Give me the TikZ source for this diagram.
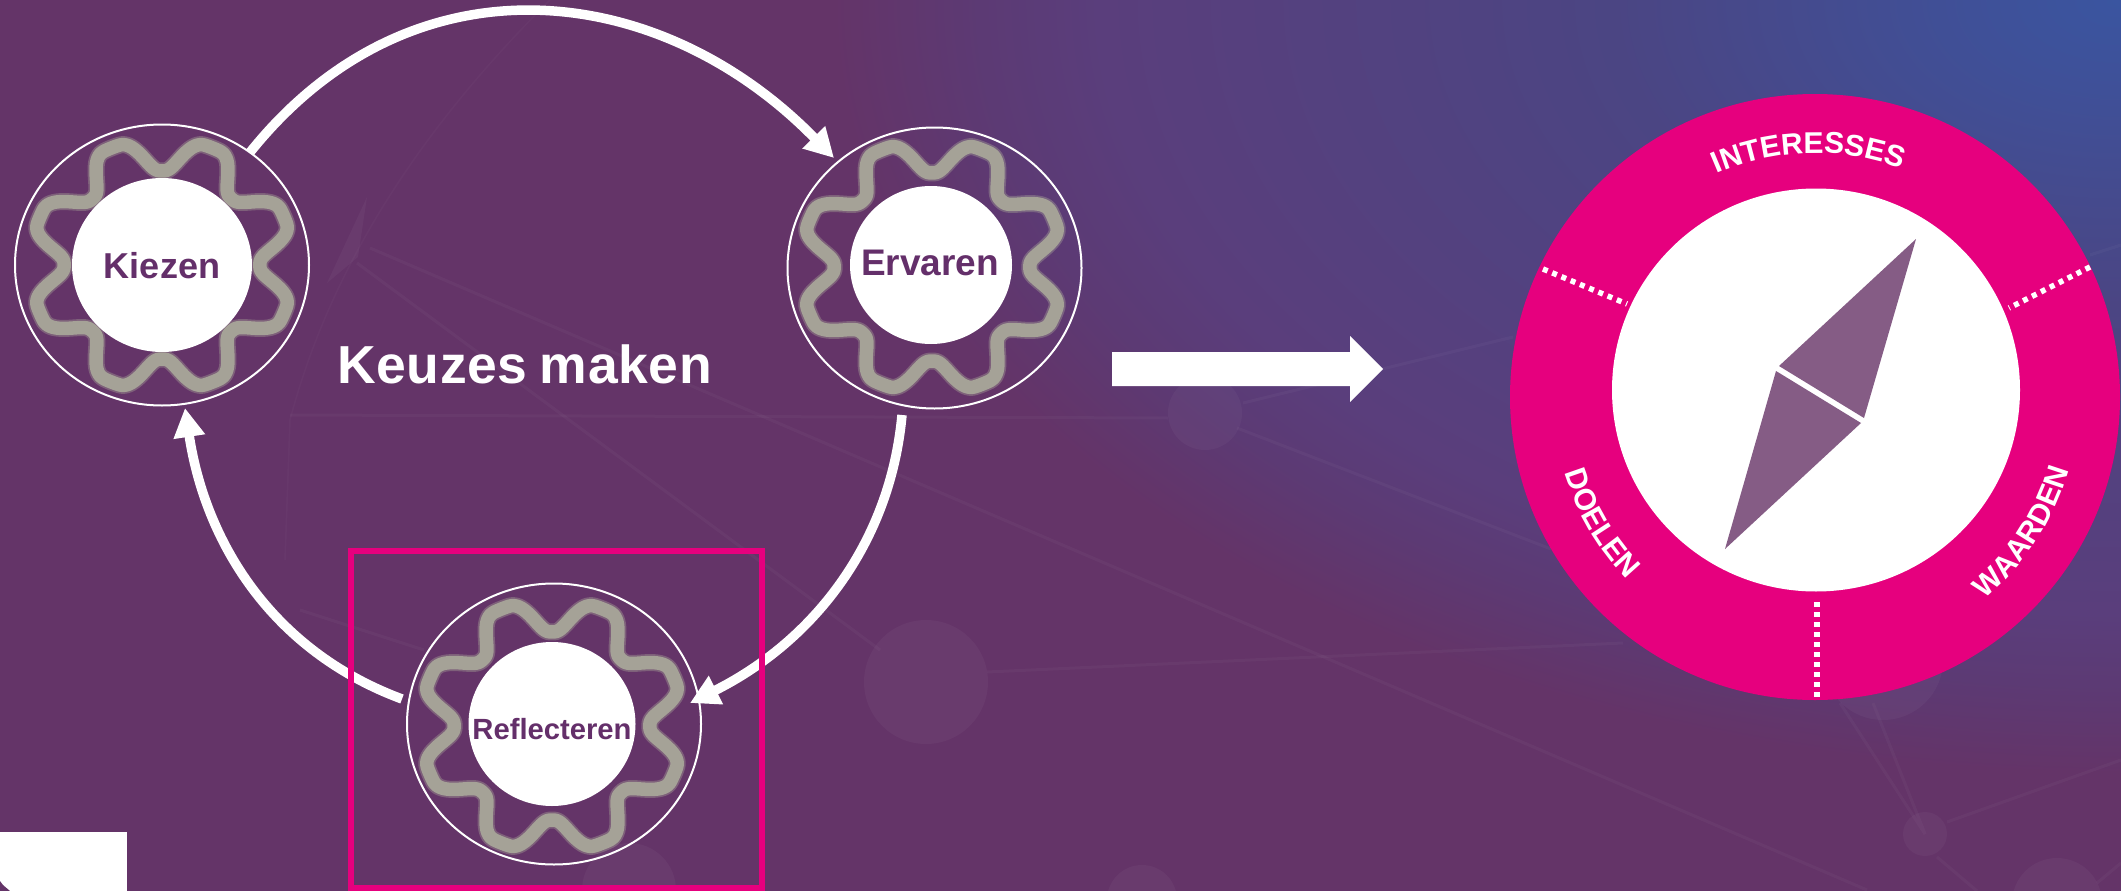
\documentclass[tikz,border=0pt]{standalone}
\usepackage{fontspec}
\setmainfont{Liberation Sans}
\usetikzlibrary{arrows.meta,shapes.geometric,calc,decorations.text}
\definecolor{bgbase}{HTML}{643468}
\definecolor{plum}{HTML}{642F6A}
\definecolor{pinkish}{HTML}{E6007E}
\definecolor{gearcol}{HTML}{A5A297}
\definecolor{needlecol}{HTML}{855C85}
\definecolor{bgA}{HTML}{3A55A0}
\definecolor{bgB}{HTML}{3F5098}
\definecolor{bgC}{HTML}{4B4583}
\definecolor{bgD}{HTML}{5A3E7C}
\definecolor{bgE}{HTML}{5C3A74}
\pgfdeclareradialshading{bgglow}{\pgfpoint{0bp}{0bp}}{%
  color(0bp)=(bgA); color(2.5bp)=(bgB); color(8.5bp)=(bgC); color(17bp)=(bgD);
  color(19bp)=(bgE); color(21.5bp)=(bgbase); color(50bp)=(bgbase)}
\newcommand{\labelfmt}{\bfseries\fontsize{30}{30}\selectfont}
\tikzset{
  declare function={
    gears(\t)=min(1,min(mod(\t,45),45-mod(\t,45))/20);
    gearr(\t)=95+33*gears(\t)*gears(\t)*gears(\t)*(10+gears(\t)*(6*gears(\t)-15));},
  ring/.style={ellipse,draw=white,line width=2pt,minimum width=294pt,minimum height=281pt,inner sep=0pt,outer sep=0pt},
  disc/.style={ellipse,fill=white,inner sep=0pt,outer sep=0pt},
  stepname/.style={text=plum,anchor=base,inner sep=0pt,outer sep=0pt},
  flow/.style={draw=white,line width=9.5pt,-{Triangle[width=30pt,length=29pt]}},
  trace/.style={draw=white,draw opacity=.03,line width=3pt},
  blob/.style={fill=white,fill opacity=.035},
  dots/.style={draw=white,line width=5.5pt,dash pattern=on 5pt off 5pt},
  needle/.style={fill=needlecol},
}
\newcommand{\gearat}[2]{%
  \draw[gearcol,line width=17pt,opacity=.4,line join=round]
    plot[domain=0:360,samples=361] ({#1+1.03*gearr(\x)*cos(\x)},{#2+.99*gearr(\x)*sin(\x)}) -- cycle;
  \draw[gearcol,line width=13.5pt,line join=round]
    plot[domain=0:360,samples=361] ({#1+1.03*gearr(\x)*cos(\x)},{#2+.99*gearr(\x)*sin(\x)}) -- cycle;
}
\begin{document}
\begin{tikzpicture}[x=1pt,y=-1pt]
\useasboundingbox (0,0) rectangle (2121,891);
\clip (0,0) rectangle (2121,891);
% background
\fill[bgbase] (0,0) rectangle (2121,891);
\shade[shading=bgglow] (2121,0) ellipse [x radius=1500,y radius=900];
% faint network
\draw[trace] (370,248) -- (1867,890);
\draw[trace] (357,263) -- (880,650);
\draw[trace] (290,415) -- (1168,418);
\draw[trace] (987,672) -- (1623,643);
\draw[trace] (1243,403) -- (1513,337);
\draw[trace] (1237,428) -- (1551,549);
\draw[trace] (1840,703) -- (1925,834) -- (1873,703);
\draw[trace] (1947,822) -- (2121,760);
\draw[trace] (1937,857) -- (1977,891);
\draw[trace] (2097,883) -- (2121,863);
\draw[trace] (2090,255) -- (2121,245);
\draw[trace] (300,610) -- (424,650);
\draw[draw=white,draw opacity=.025,line width=1.5pt] (550,0) .. controls (460,90) and (340,230) .. (290,420) -- (285,560);
\fill[blob] (367,197) -- (327,283) -- (358,257) -- cycle;
\fill[blob] (926,682) circle (62);
\fill[blob] (1205,413) circle (37);
\fill[blob] (1925,834) circle (22);
\fill[blob] (1883,660) circle (60);
\fill[blob] (2057,903) circle (45);
\fill[blob] (1142,900) circle (35);
\fill[blob] (629,890) circle (47);
% white block
\fill[white] (0,832) rectangle (127,891);
\fill[bgbase] (0,881) -- (3,885) -- (10,891) -- (0,891) -- cycle;
% cycle stages
\node[ring] (kiezen) at (162,265) {};
\node[ring] (ervaren) at (934.5,268) {};
\node[ring] (reflecteren) at (554,724) {};
\gearat{162}{265}
\gearat{932}{267}
\gearat{552}{726}
\node[disc,minimum width=180pt,minimum height=174pt] (kiezenDisc) at (162,265) {};
\node[disc,minimum width=162pt,minimum height=158pt] (ervarenDisc) at (931,265) {};
\node[disc,minimum width=167pt,minimum height=164pt] (reflecterenDisc) at (552,724) {};
\node[stepname,font=\bfseries\fontsize{36}{36}\selectfont] (kiezenText) at (162,278) {Kiezen};
\node[stepname,font=\bfseries\fontsize{37}{37}\selectfont] (ervarenText) at (930,275) {Ervaren};
\node[stepname,font=\bfseries\fontsize{29.2}{29.2}\selectfont] (reflecterenText) at (552,739) {Reflecteren};
% connectors
\draw[flow] (kiezen.52) .. controls (412,-50) and (660,-20) .. ($(ervaren.center)+(-100.5,-110)$);
\draw[flow] ($(ervaren.center)+(-32.5,147)$) .. controls (890,545) and (812,642) .. ($(reflecteren.center)+(136,-21)$);
\draw[flow] ($(reflecteren.center)+(-152,-25)$) .. controls (270,650) and (205,540) .. ($(kiezen.center)+(23,143)$);
% highlight frame
\draw[pinkish,line width=5.5pt] (351,551) rectangle (762,888);
% title and big arrow
\node[anchor=base west,text=white,inner sep=0pt,font=\bfseries\fontsize{53.5}{53.5}\selectfont\addfontfeature{LetterSpace=1.2}] (title) at (337,383) {Keuzes\hspace{-.06em} maken};
\fill[white] (1112,352) -- (1350,352) -- (1350,336) -- (1383,369) -- (1350,402) -- (1350,386) -- (1112,386) -- cycle;
% compass
\node[ellipse,fill=pinkish,minimum width=610pt,minimum height=606pt,inner sep=0pt] (compass) at (1815,397) {};
\node[disc,minimum width=408pt,minimum height=403pt] (compassDisc) at (1816,390) {};
\fill[needle] (1916,239) -- (1779,366) -- (1864,418) -- cycle;
\fill[needle] (1776,371) -- (1861,423) -- (1725,549) -- cycle;
\draw[dots] (1543,269) -- (1627,304);
\draw[dots] (2090,267) -- (2009,308);
\draw[dots] (1817,602) -- (1817,701);
\coordinate (cc) at (1815,397);
\path[decorate,decoration={text along path,text align=center,text={|\labelfmt\color{white}|INTERESSES}}]
  ([shift={(245:244)}]cc) arc[start angle=245,end angle=292,radius=244];
\path[decorate,decoration={text along path,text align=center,text={|\labelfmt\color{white}|DOELEN}}]
  ([shift={(169:262)}]cc) arc[start angle=169,end angle=130,radius=262];
\path[decorate,decoration={text along path,text align=center,text={|\labelfmt\color{white}|WAARDEN}}]
  ([shift={(54:264)}]cc) arc[start angle=54,end angle=12,radius=264];
\end{tikzpicture}
\end{document}
